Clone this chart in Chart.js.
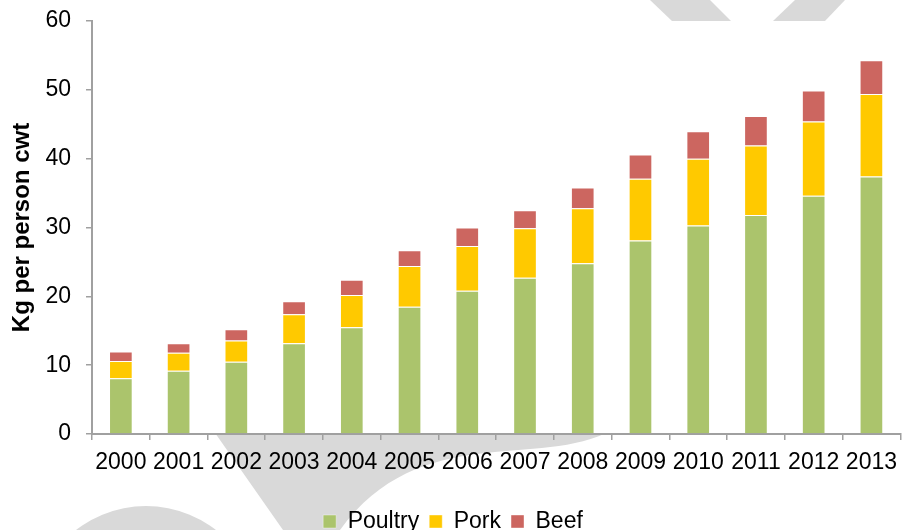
<!DOCTYPE html>
<html>
<head>
<meta charset="utf-8">
<script src="https://cdn.jsdelivr.net/npm/chart.js@4/dist/chart.umd.min.js"></script>
<style>
	html, body { margin: 0; padding: 0; background: #fff; }
	#wrap { width: 906px; height: 530px; }
</style>
</head>
<body>
<div id="wrap"><canvas id="meatChart"></canvas></div>
<script>
const years = ['2000', '2001', '2002', '2003', '2004', '2005', '2006', '2007', '2008', '2009', '2010', '2011', '2012', '2013']
const poultry = [8.1, 9.2, 10.5, 13.2, 15.5, 18.5, 20.8, 22.7, 24.8, 28.1, 30.3, 31.8, 34.6, 37.4]
const pork = [2.5, 2.6, 3.1, 4.2, 4.7, 5.9, 6.5, 7.2, 8.0, 9.0, 9.7, 10.1, 10.8, 12.0]
const beef = [1.4, 1.4, 1.6, 1.9, 2.2, 2.3, 2.7, 2.6, 3.0, 3.5, 4.0, 4.3, 4.5, 4.9]

const axisGrey = '#a0a0a0'
const font = { family: '"Liberation Sans", Arial, sans-serif', size: 23 }

/**
 * Light grey watermark behind the chart, hidden under the plot area.
 */
const watermark = {
	id: 'watermark',
	beforeDraw(chart) {
		const { ctx, chartArea, width, height } = chart
		ctx.save()
		ctx.fillStyle = '#fff'
		ctx.fillRect(0, 0, width, height)
		ctx.fillStyle = '#d9d9d9'

		const poly = (pts) => {
			ctx.beginPath()
			ctx.moveTo(pts[0][0], pts[0][1])
			pts.slice(1).forEach((p) => ctx.lineTo(p[0], p[1]))
			ctx.closePath()
			ctx.fill()
		}
		poly([[650, 0], [710, 0], [731, 21], [672, 21]])
		poly([[795, 0], [845, 0], [825, 21], [773, 21]])

		ctx.beginPath()
		ctx.moveTo(213, 430)
		ctx.lineTo(612, 430)
		ctx.bezierCurveTo(540, 470, 420, 420, 340, 530)
		ctx.lineTo(283, 530)
		ctx.closePath()
		ctx.fill()

		ctx.beginPath()
		ctx.arc(146, 620, 114, 0, Math.PI * 2)
		ctx.fill()

		ctx.fillStyle = '#fff'
		ctx.fillRect(chartArea.left, chartArea.top, chartArea.right - chartArea.left, chartArea.bottom - chartArea.top)
		ctx.restore()
	}
}

const dataset = (label, data, color) => ({
	label,
	data,
	backgroundColor: color,
	borderColor: 'rgba(255,255,255,0.4)',
	borderWidth: 1,
	barPercentage: 0.41,
	categoryPercentage: 1
})

new Chart(document.getElementById('meatChart'), {
	type: 'bar',
	data: {
		labels: years,
		datasets: [
			dataset('Poultry', poultry, '#abc46c'),
			dataset('Pork', pork, '#ffc900'),
			dataset('Beef', beef, '#cc6660')
		]
	},
	options: {
		responsive: true,
		maintainAspectRatio: false,
		devicePixelRatio: 1,
		animation: false,
		layout: { padding: { top: 0, left: 0, right: 0, bottom: -13 } },
		plugins: {
			tooltip: { enabled: false },
			legend: {
				position: 'bottom',
				labels: {
					font,
					color: '#000',
					boxWidth: 13,
					boxHeight: 13,
					padding: 10
				}
			}
		},
		scales: {
			x: {
				stacked: true,
				afterFit(scale) { scale.height = 66 },
				grid: { display: true, drawOnChartArea: false, tickLength: 6, color: axisGrey, lineWidth: 1.5 },
				border: { color: axisGrey, width: 2 },
				ticks: { font, color: '#000', padding: 9, maxRotation: 0, autoSkip: false }
			},
			y: {
				stacked: true,
				min: 0,
				max: 60,
				afterFit(scale) {
					scale.width = 92
					scale.paddingTop = 21
				},
				grid: { display: true, drawOnChartArea: false, tickLength: 6, color: axisGrey, lineWidth: 1.5 },
				border: { color: axisGrey, width: 2 },
				ticks: { font, color: '#000', stepSize: 10, padding: 15 },
				title: {
					display: true,
					text: 'Kg per person cwt',
					color: '#000',
					font: { family: font.family, size: 24, weight: 'bold' },
					padding: { top: 8, bottom: 0 }
				}
			}
		}
	},
	plugins: [watermark]
})
</script>
</body>
</html>
